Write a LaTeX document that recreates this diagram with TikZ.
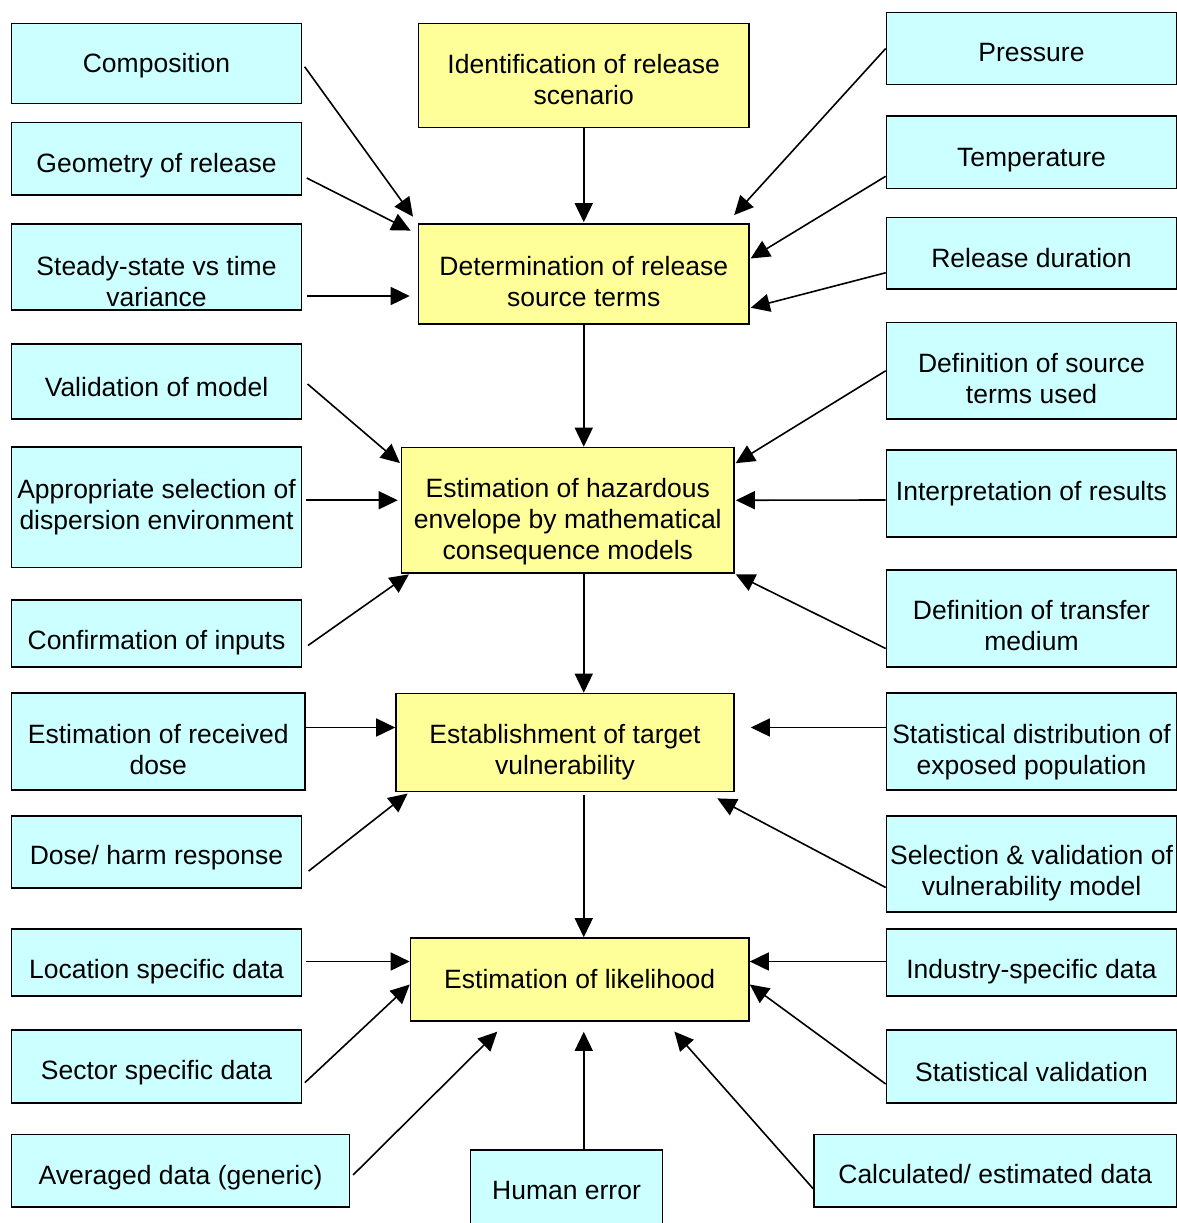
\documentclass[tikz,border=0pt]{standalone}
\usepackage{fontspec}
\setmainfont{Liberation Sans}
\usepackage{tikz}
\usetikzlibrary{calc,arrows.meta}

\definecolor{hellcyan}{HTML}{CCFFFF}
\definecolor{hellgelb}{HTML}{FFFF99}

% Text im Kasten um #1 pt nach unten setzen
\newcommand{\tief}[1]{\rule{0pt}{\dimexpr19.3pt+#1pt*2\relax}}

\begin{document}
\begin{tikzpicture}[x=1pt,y=-1pt,
    kasten/.style={draw=black,line width=1.6pt,align=center,inner sep=0pt,
      font=\fontsize{26.5}{31}\selectfont},
    einfluss/.style={kasten,fill=hellcyan,minimum width=290pt},
    stufe/.style={kasten,fill=hellgelb},
    pfeil/.style={line width=1.6pt,-{Triangle[length=19pt,width=18pt]}}]

    % Rahmen des Bildes
    \useasboundingbox (0,0) rectangle (1177,1223);

    % Hauptkette in der Mitte
    \node[stufe,minimum width=330.5pt,minimum height=104pt] (ident) at (583.75,75.5) {\tief{3.5}Identification of release\\scenario};
    \node[stufe,minimum width=330.5pt,minimum height=100pt] (det) at (583.75,274) {\tief{7}Determination of release\\source terms};
    \node[stufe,minimum width=332.5pt,minimum height=125.5pt] (haz) at (567.75,510.25) {\tief{11}Estimation of hazardous\\envelope by mathematical\\consequence models};
    \node[stufe,minimum width=338pt,minimum height=98pt] (vuln) at (565,742.5) {\tief{9.5}Establishment of target\\vulnerability};
    \node[stufe,minimum width=338.5pt,minimum height=83pt] (likely) at (579.75,979.5) {Estimation of likelihood};

    % Einflussgroessen links
    \node[einfluss,minimum height=80pt] (comp) at (156.5,63.5) {\tief{2.5}Composition};
    \node[einfluss,minimum height=72.5pt] (geom) at (156.5,158.75) {\tief{7}Geometry of release};
    \node[einfluss,minimum height=86pt] (steady) at (156.5,267) {\tief{14}Steady-state vs time\\variance};
    \node[einfluss,minimum height=75pt] (valid) at (156.5,381.5) {\tief{5}Validation of model};
    \node[einfluss,minimum height=120.5pt] (approp) at (156.5,507.25) {Appropriate selection of\\dispersion environment};
    \node[einfluss,minimum height=67pt] (confirm) at (156.5,633.5) {\tief{9.5}Confirmation of inputs};
    \node[einfluss,minimum width=293.5pt,minimum height=97pt] (dose) at (158.25,741.5) {\tief{8}Estimation of received\\dose};
    \node[einfluss,minimum height=72pt] (harm) at (156.5,852) {\tief{6}Dose/ harm response};
    \node[einfluss,minimum height=67pt] (locdata) at (156.5,962.5) {\tief{9}Location specific data};
    \node[einfluss,minimum height=73pt] (secdata) at (156.5,1066.5) {\tief{6.5}Sector specific data};
    \node[einfluss,minimum width=338pt,minimum height=72.5pt] (avgdata) at (180.5,1170.75) {\tief{7}Averaged data (generic)};

    % Einflussgroessen unten
    \node[einfluss,minimum width=192pt,minimum height=80pt] (human) at (566.5,1190) {Human error};

    % Einflussgroessen rechts
    \node[einfluss,minimum height=72pt] (press) at (1031.5,48.5) {\tief{3.5}Pressure};
    \node[einfluss,minimum height=72.5pt] (temp) at (1031.5,152.25) {\tief{7.5}Temperature};
    \node[einfluss,minimum height=71.5pt] (reldur) at (1031.5,253.25) {\tief{4.5}Release duration};
    \node[einfluss,minimum height=96.5pt] (defsrc) at (1031.5,370.75) {\tief{8}Definition of source\\terms used};
    \node[einfluss,minimum height=87pt] (interp) at (1031.5,493.5) {Interpretation of results};
    \node[einfluss,minimum height=97pt] (transfer) at (1031.5,618.5) {\tief{7}Definition of transfer\\medium};
    \node[einfluss,minimum height=97pt] (statdist) at (1031.5,741.5) {\tief{10.5}Statistical distribution of\\exposed population};
    \node[einfluss,minimum height=96pt] (selval) at (1031.5,864) {\tief{9}Selection \& validation of\\vulnerability model};
    \node[einfluss,minimum height=67pt] (industry) at (1031.5,962.5) {\tief{9}Industry-specific data};
    \node[einfluss,minimum height=73pt] (statval) at (1031.5,1066.5) {\tief{5}Statistical validation};
    \node[einfluss,minimum width=362.5pt,minimum height=72.5pt] (calcdata) at (995.25,1170.75) {\tief{3.5}Calculated/ estimated data};

    % Pfeile zur Quellterm-Bestimmung
    \draw[pfeil,shorten <=4pt,shorten >=8pt] (comp.east) -- (det.north west);
    \draw[pfeil,shorten <=5pt,shorten >=8pt] ([yshift=-17pt]geom.east) -- ([yshift=-11pt]det.north west);
    \draw[pfeil,shorten <=5pt,shorten >=8pt] ([yshift=-29pt]steady.east) -- ([yshift=-22pt]det.west);
    \draw[pfeil,shorten >=1pt] (ident.south) -- (det.north);
    \draw[pfeil,shorten >=11pt] (press.west) -- ([xshift=-23pt]det.north east);
    \draw[pfeil,shorten >=1pt] ([yshift=-24pt]temp.west) -- ([yshift=15pt]det.east);
    \draw[pfeil,shorten >=1pt] ([yshift=-19.5pt]reldur.west) -- ([yshift=-34pt]det.east);

    % Pfeile zur Gefahrenzone
    \draw[pfeil] (det.south) -- (det.south |- haz.north);
    \draw[pfeil,shorten <=7pt,shorten >=1pt] ([yshift=2pt]valid.east) -- ([yshift=-17pt]haz.north west);
    \draw[pfeil,shorten <=3.5pt,shorten >=3pt] ([yshift=7pt]approp.east) -- ([yshift=10pt]haz.west);
    \draw[pfeil,shorten <=7pt,shorten >=1pt] ([yshift=-16pt]confirm.east) -- ([xshift=9pt]haz.south west);
    \draw[pfeil,shorten >=1pt] (defsrc.west) -- ([yshift=-17pt]haz.north east);
    \draw[pfeil,shorten >=1pt] ([yshift=-6.5pt]interp.west) -- ([yshift=10pt]haz.east);
    \draw[pfeil,shorten >=1pt] ([yshift=-30pt]transfer.west) -- (haz.south east);

    % Pfeile zur Verwundbarkeit
    \draw[pfeil] (haz.south -| det.south) -- (vuln.north -| det.south);
    \draw[pfeil] ([yshift=14pt]dose.east) -- ([yshift=15pt]vuln.west);
    \draw[pfeil,shorten <=8pt,shorten >=2pt] ([yshift=-24pt]harm.east) -- ([xshift=14pt]vuln.south west);
    \draw[pfeil,shorten >=16pt] ([yshift=14pt]statdist.west) -- ([yshift=15pt]vuln.east);
    \draw[pfeil,shorten >=13pt] ([yshift=-23.5pt]selval.west) -- ([xshift=-29pt]vuln.south east);

    % Pfeile zur Wahrscheinlichkeit
    \draw[pfeil,shorten <=3pt] (vuln.south -| det.south) -- (likely.north -| det.south);
    \draw[pfeil,shorten <=3.5pt] ([yshift=1pt]locdata.east) -- ([yshift=18pt]likely.west);
    \draw[pfeil,shorten <=3.5pt] ([yshift=-18.5pt]secdata.east) -- ([yshift=-5pt]likely.west);
    \draw[pfeil,shorten <=4pt,shorten >=14pt] ([yshift=-7pt]avgdata.east) -- ([xshift=-72.5pt]likely.south);
    \draw[pfeil,shorten >=10pt] (human.north -| det.south) -- (likely.south -| det.south);
    \draw[pfeil,shorten >=13pt] ([yshift=-18pt]calcdata.west) -- ([xshift=86pt]likely.south);
    \draw[pfeil] ([yshift=-17.5pt]statval.west) -- ([yshift=-5pt]likely.east);
    \draw[pfeil] ([yshift=1pt]industry.west) -- ([yshift=18pt]likely.east);

\end{tikzpicture}
\end{document}
